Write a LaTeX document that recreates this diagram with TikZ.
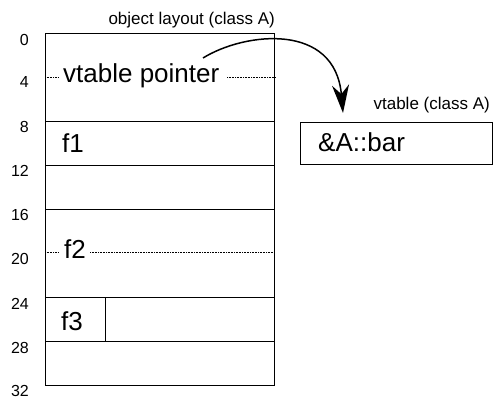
\documentclass[tikz,border=0pt]{standalone}
\usepackage{fontspec}
\setmainfont{Liberation Sans}
\usetikzlibrary{arrows.meta}
\begin{document}
\begin{tikzpicture}[x=1pt,y=-1pt,
  cell/.style={draw,line width=1.4pt,minimum width=229pt,inner sep=0pt,anchor=north west},
  big/.style={font=\fontsize{26}{30}\selectfont,inner xsep=5pt,inner ysep=0pt,anchor=base west},
  small/.style={font=\fontsize{17}{20}\selectfont,inner sep=0pt,anchor=base east},
  num/.style={font=\fontsize{16}{19}\selectfont,inner sep=0pt,anchor=base east},
  dots/.style={line width=0.7pt,dash pattern=on 0.7pt off 0.9pt}]
\useasboundingbox (0,0) rectangle (495,398);
% object layout rows
\node[cell,minimum height=88pt] (r0) at (45,33) {};
\node[cell,minimum height=44pt] (r1) at (45,121) {};
\node[cell,minimum height=44pt] (r2) at (45,165) {};
\node[cell,minimum height=88pt] (r3) at (45,209) {};
\node[cell,minimum height=44pt] (r4) at (45,297) {};
\node[cell,minimum height=44pt] (r5) at (45,341) {};
\node[draw,line width=1.4pt,minimum width=60pt,minimum height=44pt,inner sep=0pt,anchor=north west] (f3cell) at (45,297) {};
% vtable box
\node[draw,line width=1.4pt,minimum width=192pt,minimum height=42pt,inner sep=0pt,anchor=north west] (vt) at (300,122) {};
\node[big,inner xsep=0pt] (vtext) at (318,152) {\&A::bar};
% texts
\node[big] (vp) at (58,83) {vtable pointer};
\coordinate (vpl) at (58,77);
\coordinate (vpr) at (227,77);
\draw[dots] (r0.west |- vpl) -- (vpl);
\draw[dots] (vpr) -- (r0.east |- vpr);
\node[big,inner xsep=0pt] (f1) at (62,153) {f1};
\node[big] (f2) at (59,258) {f2};
\coordinate (f2l) at (58,252);
\coordinate (f2r) at (90,252);
\draw[dots] (r3.west |- f2l) -- (f2l);
\draw[dots] (f2r) -- (r3.east |- f2r);
\node[big,inner xsep=0pt] (f3) at (61,330) {f3};
% offsets
\node[num] (l0) at (29,46) {0};
\node[num] (l4) at (29,88) {4};
\node[num] (l8) at (29,133) {8};
\node[num] (l12) at (29,177) {12};
\node[num] (l16) at (29,221) {16};
\node[num] (l20) at (29,264) {20};
\node[num] (l24) at (29,309) {24};
\node[num] (l28) at (29,353) {28};
\node[num] (l32) at (29,396) {32};
% titles
\node[small] (t1) at (275,25) {object layout (class A)};
\node[small] (t2) at (490,110) {vtable (class A)};
% pointer arrow
\coordinate (a0) at (203,58);
\coordinate (a1) at (343,113);
\draw[line width=1.5pt,-{Stealth[length=28pt,width=17pt,inset=9pt]}] (a0) .. controls (245,32) and (335,22) .. (a1);
\end{tikzpicture}
\end{document}
